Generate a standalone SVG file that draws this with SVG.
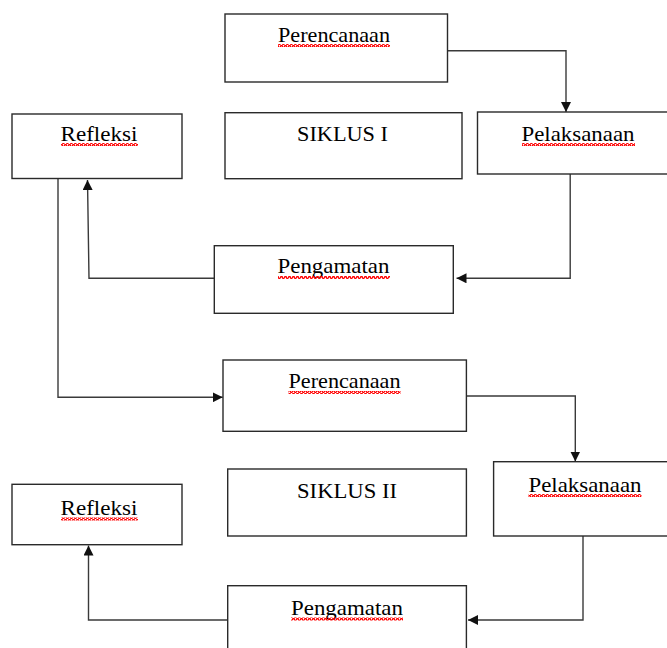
<svg xmlns="http://www.w3.org/2000/svg" width="667" height="648" viewBox="0 0 667 648">
  <defs>
    <marker id="arrow" viewBox="0 0 10 10" refX="10" refY="5" markerWidth="10" markerHeight="10" markerUnits="userSpaceOnUse" orient="auto">
      <path d="M0,0 L10,5 L0,10 z" fill="#111"/>
    </marker>
    <pattern id="squiggle" patternUnits="userSpaceOnUse" width="4" height="3">
      <polyline points="0,2.5 1,0.5 2,0.5 3,2.5 4,2.5" fill="none" stroke="#f00" stroke-width="1.4"/>
    </pattern>
  </defs>
  <style>
    .box { fill: #fff; stroke: #2a2a2a; stroke-width: 1.4; }
    .lbl { font-family: 'Liberation Serif', 'Times New Roman', serif; font-size: 21.5px; fill: #000; text-anchor: middle; }
    .sq { fill: url(#squiggle); }
    .conn { fill: none; stroke: #3a3a3a; stroke-width: 1.4; }
  </style>
  <rect x="0" y="0" width="667" height="648" fill="#fff"/>

  <g id="connectors">
    <path class="conn" d="M447.5,50.7 H566 V112" marker-end="url(#arrow)"/>
    <path class="conn" d="M570.2,174 V278.3 H456.5" marker-end="url(#arrow)"/>
    <path class="conn" d="M214.3,278.3 H89 L87.5,180" marker-end="url(#arrow)"/>
    <path class="conn" d="M58,178.5 V397.3 H222.7" marker-end="url(#arrow)"/>
    <path class="conn" d="M466.4,396 H575.3 V461.5" marker-end="url(#arrow)"/>
    <path class="conn" d="M583,536 V620 H468" marker-end="url(#arrow)"/>
    <path class="conn" d="M227.7,620 H88.5 V545.5" marker-end="url(#arrow)"/>
  </g>

  <g id="perencanaan1">
    <rect class="box" x="225" y="14" width="222.5" height="68"/>
    <text class="lbl" x="334" y="41.7" textLength="112" lengthAdjust="spacingAndGlyphs">Perencanaan</text>
    <rect class="sq" x="278" y="44" width="112" height="3"/>
  </g>
  <g id="refleksi1">
    <rect class="box" x="12" y="114" width="170" height="64.5"/>
    <text class="lbl" x="99" y="140.7" textLength="77" lengthAdjust="spacingAndGlyphs">Refleksi</text>
    <rect class="sq" x="61" y="143" width="77" height="3"/>
  </g>
  <g id="siklus1">
    <rect class="box" x="225" y="112.7" width="237" height="66"/>
    <text class="lbl" x="342.5" y="140.7" textLength="91" lengthAdjust="spacingAndGlyphs">SIKLUS I</text>
  </g>
  <g id="pelaksanaan1">
    <rect class="box" x="477.5" y="112" width="200" height="62"/>
    <text class="lbl" x="578" y="140.7" textLength="113" lengthAdjust="spacingAndGlyphs">Pelaksanaan</text>
    <rect class="sq" x="522" y="143" width="113" height="3"/>
  </g>
  <g id="pengamatan1">
    <rect class="box" x="214.3" y="245.7" width="239" height="67.6"/>
    <text class="lbl" x="333.5" y="273.3" textLength="112" lengthAdjust="spacingAndGlyphs">Pengamatan</text>
    <rect class="sq" x="278" y="276" width="112" height="3"/>
  </g>
  <g id="perencanaan2">
    <rect class="box" x="223" y="360" width="243.4" height="71.3"/>
    <text class="lbl" x="344.5" y="388.3" textLength="112" lengthAdjust="spacingAndGlyphs">Perencanaan</text>
    <rect class="sq" x="288.5" y="391" width="112" height="3"/>
  </g>
  <g id="siklus2">
    <rect class="box" x="227.7" y="469" width="238.7" height="67"/>
    <text class="lbl" x="347" y="498.3" textLength="100" lengthAdjust="spacingAndGlyphs">SIKLUS II</text>
  </g>
  <g id="pelaksanaan2">
    <rect class="box" x="493.6" y="461.7" width="190" height="74.3"/>
    <text class="lbl" x="585" y="491.7" textLength="113" lengthAdjust="spacingAndGlyphs">Pelaksanaan</text>
    <rect class="sq" x="528.5" y="494" width="113" height="3"/>
  </g>
  <g id="refleksi2">
    <rect class="box" x="12" y="484.3" width="170" height="60.4"/>
    <text class="lbl" x="99" y="515" textLength="77" lengthAdjust="spacingAndGlyphs">Refleksi</text>
    <rect class="sq" x="61" y="517.5" width="77" height="3"/>
  </g>
  <g id="pengamatan2">
    <rect class="box" x="227.7" y="585.7" width="238.7" height="80"/>
    <text class="lbl" x="347" y="615" textLength="112" lengthAdjust="spacingAndGlyphs">Pengamatan</text>
    <rect class="sq" x="291" y="617.5" width="112" height="3"/>
  </g>
</svg>
